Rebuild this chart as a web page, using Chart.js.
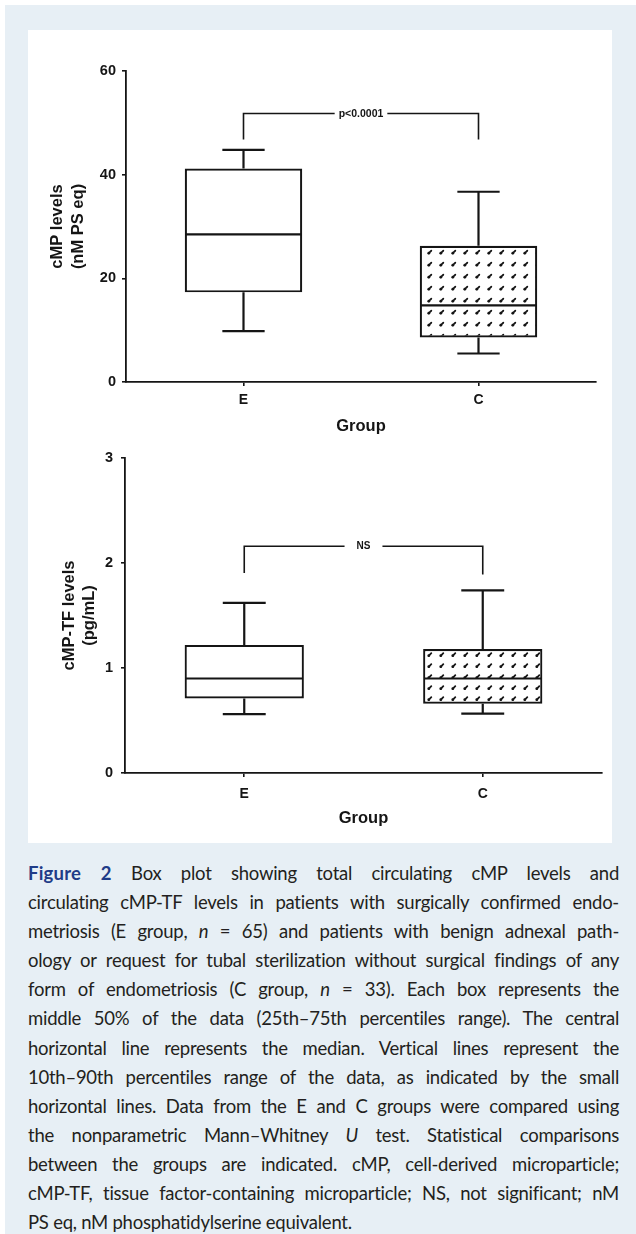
<!DOCTYPE html>
<html><head><meta charset="utf-8">
<script src="https://cdn.jsdelivr.net/npm/chart.js@4.4.1/dist/chart.umd.min.js"></script>
<style>
html,body{margin:0;padding:0;background:#fff;}
body{width:636px;height:1234px;position:relative;overflow:hidden;}
#frame{position:absolute;left:5px;top:5px;width:631px;height:1229px;background:#e7eff5;}
#panel{position:absolute;left:28px;top:30px;width:584px;height:813px;background:#fff;}
#c1{position:absolute;left:28px;top:30px;}
#c2{position:absolute;left:28px;top:440px;}
#caption{position:absolute;left:28px;top:859px;width:591px;font-family:Lato,"Open Sans",sans-serif;font-size:18.5px;letter-spacing:-0.25px;line-height:29.1px;color:#231f20;}
.ln{text-align:justify;text-align-last:justify;white-space:nowrap;}
.ln.last{text-align-last:left;}
.fig{font-weight:bold;color:#1f3c88;letter-spacing:0.2px;}
</style>
</head><body>
<div id="frame"></div>
<div id="panel"></div>
<canvas id="c1" width="584" height="410"></canvas>
<canvas id="c2" width="584" height="400"></canvas>
<div id="caption">
<div class="ln"><span class="fig">Figure 2</span> Box plot showing total circulating cMP levels and</div>
<div class="ln">circulating cMP-TF levels in patients with surgically confirmed endo-</div>
<div class="ln">metriosis (E group, <i>n</i> = 65) and patients with benign adnexal path-</div>
<div class="ln">ology or request for tubal sterilization without surgical findings of any</div>
<div class="ln">form of endometriosis (C group, <i>n</i> = 33). Each box represents the</div>
<div class="ln">middle 50% of the data (25th–75th percentiles range). The central</div>
<div class="ln">horizontal line represents the median. Vertical lines represent the</div>
<div class="ln">10th–90th percentiles range of the data, as indicated by the small</div>
<div class="ln">horizontal lines. Data from the E and C groups were compared using</div>
<div class="ln">the nonparametric Mann–Whitney <i>U</i> test. Statistical comparisons</div>
<div class="ln">between the groups are indicated. cMP, cell-derived microparticle;</div>
<div class="ln">cMP-TF, tissue factor-containing microparticle; NS, not significant; nM</div>
<div class="ln last">PS eq, nM phosphatidylserine equivalent.</div>
</div>
<script>
// ---- data ----
const groups = ['E', 'C'];

// Chart 1: total cMP levels (nM PS eq)
const cmpP10 = [9.8, 5.5];
const cmpQ1 = [17.3, 8.6];
const cmpMedian = [28.5, 14.8];
const cmpQ3 = [41.2, 26.3];
const cmpP90 = [44.8, 36.7];
const cmpTicks = [0, 20, 40, 60];
const cmpBracketY = [46.8, 51.8, 46.8];
const cmpBracketLabel = 'p<0.0001';

// Chart 2: cMP-TF levels (pg/mL)
const tfP10 = [0.56, 0.565];
const tfQ1 = [0.71, 0.66];
const tfMedian = [0.90, 0.90];
const tfQ3 = [1.22, 1.18];
const tfP90 = [1.62, 1.74];
const tfTicks = [0, 1, 2, 3];
const tfBracketY = [1.905, 2.16, 1.89];
const tfBracketLabel = 'NS';

// ---- helpers ----
const INK = '#151515';
function dotPattern(w, h) {
  const c = document.createElement('canvas');
  c.width = w; c.height = h;
  const g = c.getContext('2d');
  g.fillStyle = '#fff'; g.fillRect(0, 0, w, h);
  g.strokeStyle = INK; g.lineWidth = 1.8; g.lineCap = 'round';
  g.beginPath(); g.moveTo(w / 2 - 1.3, h / 2 + 1.3); g.lineTo(w / 2 + 1.3, h / 2 - 1.3); g.stroke();
  g.fillStyle = INK; g.beginPath(); g.arc(w / 2 - 1.2, h / 2 + 1.2, 1.4, 0, Math.PI * 2); g.fill();
  return g.createPattern(c, 'repeat');
}

const boxExtras = {
  id: 'boxExtras',
  afterDatasetsDraw(chart, args, o) {
    const ctx = chart.ctx, ys = chart.scales.y;
    const bars = chart.getDatasetMeta(0).data;
    ctx.save();
    ctx.strokeStyle = INK; ctx.lineCap = 'butt';
    bars.forEach((bar, i) => {
      const x = bar.x, half = bar.width / 2, cap = bar.width * 0.18;
      const yMed = ys.getPixelForValue(o.median[i]);
      const yQ1 = ys.getPixelForValue(o.q1[i]);
      const yQ3 = ys.getPixelForValue(o.q3[i]);
      const yLo = ys.getPixelForValue(o.low[i]);
      const yHi = ys.getPixelForValue(o.high[i]);
      ctx.lineWidth = 2.2;
      ctx.beginPath();
      ctx.moveTo(x - half + 1, yMed); ctx.lineTo(x + half - 1, yMed);
      ctx.moveTo(x, yQ3); ctx.lineTo(x, yHi);
      ctx.moveTo(x - cap, yHi); ctx.lineTo(x + cap, yHi);
      ctx.moveTo(x, yQ1); ctx.lineTo(x, yLo);
      ctx.moveTo(x - cap, yLo); ctx.lineTo(x + cap, yLo);
      ctx.stroke();
    });
    // significance bracket
    const b = o.bracket;
    const x1 = bars[0].x, x2 = bars[1].x;
    const yl = ys.getPixelForValue(b[0]), yt = ys.getPixelForValue(b[1]), yr = ys.getPixelForValue(b[2]);
    ctx.font = o.labelFont;
    const tw = ctx.measureText(o.label).width;
    const mid = (x1 + x2) / 2;
    const g = tw / 2 + o.gap;
    ctx.lineWidth = 1.6;
    ctx.beginPath();
    ctx.moveTo(x1, yl); ctx.lineTo(x1, yt); ctx.lineTo(mid - g, yt);
    ctx.moveTo(mid + g, yt); ctx.lineTo(x2, yt); ctx.lineTo(x2, yr);
    ctx.stroke();
    ctx.fillStyle = INK; ctx.textAlign = 'center'; ctx.textBaseline = 'middle';
    ctx.fillText(o.label, mid, yt + 0.5);
    ctx.restore();
  }
};

function makeChart(id, cfg) {
  const font = {family: '"Liberation Sans", Arial, sans-serif', weight: 'bold'};
  return new Chart(document.getElementById(id), {
    type: 'bar',
    data: {
      labels: groups,
      datasets: [{
        data: cfg.q1.map((v, i) => [v, cfg.q3[i]]),
        backgroundColor: ['#ffffff', dotPattern(12, cfg.dotH)],
        borderColor: INK,
        borderWidth: 2.2,
        borderSkipped: false,
        barPercentage: 0.5,
        categoryPercentage: 1.0
      }]
    },
    options: {
      responsive: false,
      animation: false,
      devicePixelRatio: 1,
      layout: {padding: {top: cfg.padTop, right: cfg.padRight, left: 0, bottom: 0}},
      plugins: {
        legend: {display: false},
        tooltip: {enabled: false},
        boxExtras: {
          median: cfg.median, q1: cfg.q1, q3: cfg.q3, low: cfg.low, high: cfg.high,
          bracket: cfg.bracket, label: cfg.label, gap: cfg.gap,
          labelFont: cfg.labelFont
        }
      },
      scales: {
        x: {
          afterFit: s => { s.height = cfg.xHeight; },
          grid: {display: true, drawOnChartArea: false, drawTicks: true, tickLength: 4, offset: false, color: INK, lineWidth: 1.6},
          border: {display: true, color: INK, width: 1.8},
          ticks: {color: INK, font: Object.assign({size: 14}, font), padding: cfg.xTickPad},
          title: {display: true, text: 'Group', color: INK, font: Object.assign({size: 16.5, lineHeight: 1.2}, font), padding: {top: 0, bottom: cfg.xTitlePad}}
        },
        y: {
          min: cfg.ticks[0], max: cfg.ticks[cfg.ticks.length - 1],
          afterFit: s => { s.width = cfg.yWidth; },
          afterBuildTicks: s => { s.ticks = cfg.ticks.map(v => ({value: v})); },
          grid: {display: true, drawOnChartArea: false, drawTicks: true, tickLength: 4, color: INK, lineWidth: 1.6},
          border: {display: true, color: INK, width: 1.8},
          ticks: {color: INK, font: Object.assign({size: 14.5}, font), padding: cfg.yTickPad},
          title: {display: true, text: cfg.yTitle, color: INK, font: Object.assign({size: 16.5, lineHeight: cfg.yTitleLH}, font), padding: {top: cfg.yTitlePad, bottom: 0}}
        }
      }
    },
    plugins: [boxExtras]
  });
}

makeChart('c1', {
  q1: cmpQ1, q3: cmpQ3, median: cmpMedian, low: cmpP10, high: cmpP90, ticks: cmpTicks,
  bracket: cmpBracketY, label: cmpBracketLabel, gap: 4, labelFont: 'bold 10.5px "Liberation Sans", Arial, sans-serif',
  dotH: 12, padTop: 41, padRight: 16, xHeight: 58, yWidth: 98,
  xTickPad: 6, xTitlePad: 4, yTickPad: 6,
  yTitle: ['cMP levels', '(nM PS eq)'], yTitleLH: 1.33, yTitlePad: 18
});

makeChart('c2', {
  q1: tfQ1, q3: tfQ3, median: tfMedian, low: tfP10, high: tfP90, ticks: tfTicks,
  bracket: tfBracketY, label: tfBracketLabel, gap: 12, labelFont: 'bold 10px "Liberation Sans", Arial, sans-serif',
  dotH: 11, padTop: 18, padRight: 10, xHeight: 67, yWidth: 97,
  xTickPad: 9, xTitlePad: 12, yTickPad: 8,
  yTitle: ['cMP-TF levels', '(pg/mL)'], yTitleLH: 1.25, yTitlePad: 31
});
</script>
</body></html>
